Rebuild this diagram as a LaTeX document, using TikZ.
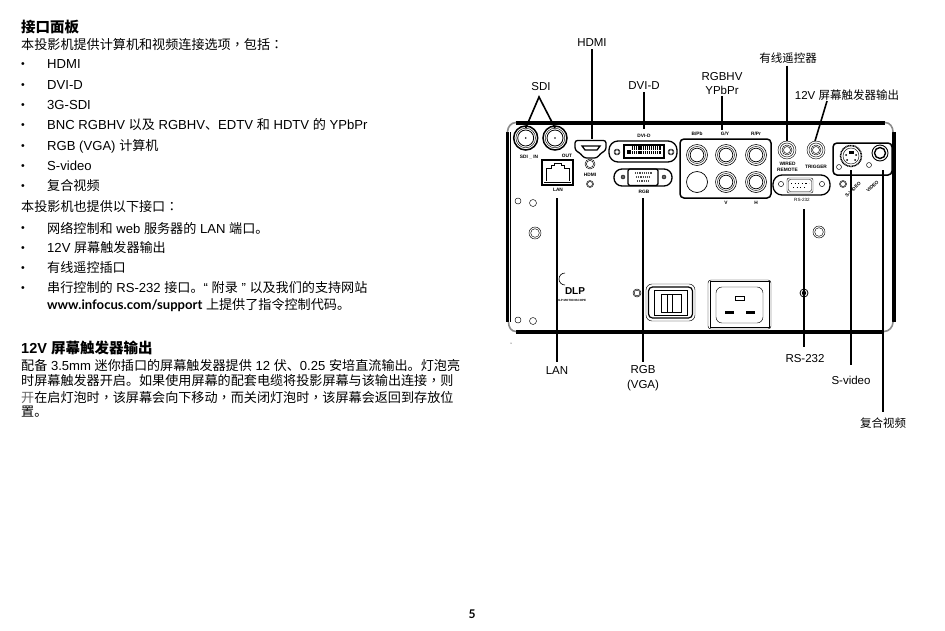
\documentclass[tikz,border=0pt]{standalone}
\usepackage{fontspec}
\setmainfont{Liberation Sans}
\newfontfamily\cjkf{Noto Sans CJK SC}
\newfontfamily\cjkp{Noto Sans CJK TC}
\newfontfamily\gill{Lato}
\newcommand\zh[1]{{\cjkf #1}}
\newcommand\zp[1]{{\cjkp #1}}
\newcommand\ringc[3]{\draw[pline] (#1,#2) circle (#3); \draw[pline] (#1,#2) circle (#3*0.72);}
\newcommand\rca[2]{\draw[pline,line width=.6pt] (#1,#2) circle (10.5); \draw[pline] (#1,#2) circle (8.5); \draw[pline,line width=.7pt] (#1,#2) circle (6.8);}
\tikzset{
 x=1pt,y=-1pt,
 body/.style={anchor=west,inner sep=0pt,font=\fontsize{13.1}{13.1}\selectfont},
 bul/.style={anchor=west,inner sep=0pt,font=\fontsize{10.5}{10.5}\selectfont},
 head/.style={anchor=west,inner sep=0pt,font=\fontsize{14.5}{14.5}\selectfont\bfseries},
 lab/.style={anchor=center,inner sep=0pt,align=center,font=\fontsize{11.5}{14.5}\selectfont},
 lead/.style={line width=1.6pt,black},
 wall/.style={line width=2.6pt,black},
 thin/.style={line width=.5pt,black},
 pline/.style={line width=.45pt,black},
 pthick/.style={line width=1.3pt,black},
 corner/.style={line width=1.6pt,black!45},
 tiny/.style={inner sep=0pt,align=center,font=\fontsize{4.8}{6}\selectfont\bfseries},
}
\begin{document}
\begin{tikzpicture}
\useasboundingbox (0,0) rectangle (945,630);
% left text
\node[head] (t1) at (21,27) {\zh{\textbf{接口面板}}};
\node[body] (p1) at (21,45) {\zh{本投影机提供计算机和视频连接选项}\zp{，}\zh{包括}\zp{：}};
\foreach \yy/\tt [count=\i] in {64/HDMI,85/DVI-D,105/3G-SDI,125/{BNC RGBHV \zh{以及} RGBHV\zh{、}EDTV \zh{和} HDTV \zh{的} YPbPr},146/{RGB (VGA) \zh{计算机}},166/S-video,186/{\zh{复合视频}},228/{\zh{网络控制和} web \zh{服务器的} LAN \zh{端口。}},248/{12V \zh{屏幕触发器输出}},268/{\zh{有线遥控插口}},288/{\zh{串行控制的} RS-232 \zh{接口。}“ \zh{附录} ” \zh{以及我们的支持网站}}}{
  \node[bul] (b\i) at (21,\yy+1) {•};
  \node[body] (l\i) at (47,\yy) {\tt};
}
\node[body] (p2) at (21,207) {\zh{本投影机也提供以下接口}\zp{：}};
\node[body] (p3) at (47,305) {{\gill\bfseries www.infocus.com/support} \zh{上提供了指令控制代码。}};
\node[head] (t2) at (21,348) {12V \zh{\textbf{屏幕触发器输出}}};
\node[body] (q1) at (21,365) {\zh{配备} 3.5mm \zh{迷你插口的屏幕触发器提供} 12 \zh{伏、}0.25 \zh{安培直流输出。灯泡亮}};
\node[body] (q2) at (21,381) {\zh{时屏幕触发器开启。如果使用屏幕的配套电缆将投影屏幕与该输出连接}\zp{，}\zh{则}};
\node[body] (q3) at (21,397) {{\cjkf\color{black!60}开}\zh{在启灯泡时}\zp{，}\zh{该屏幕会向下移动}\zp{，}\zh{而关闭灯泡时}\zp{，}\zh{该屏幕会返回到存放位}};
\node[body] (q4) at (21,412) {\zh{置。}};
\node[inner sep=0pt,font=\fontsize{12}{12}\selectfont\gill\bfseries] (pg) at (472,614) {5};

% panel outline
\draw[wall] (516,123.7) -- (885,123.7);
\draw[thin] (516,121.3) -- (885,121.3);
\draw[wall] (516,332.7) -- (884,332.7);
\draw[thin] (516,330.2) -- (884,330.2);
\draw[wall] (507.5,132) -- (507.5,322);
\draw[thin] (510,132) -- (510,322);
\draw[wall] (894.3,132) -- (894.3,322);
\draw[thin] (891.8,132) -- (891.8,322);
\draw[corner] (507.5,132) .. controls (507.5,127) and (511,122.5) .. (516,122.5);
\draw[corner] (885,122.5) .. controls (890,122.5) and (893,127) .. (893,132);
\draw[corner] (508.5,322) .. controls (508.5,327) and (511,331.5) .. (516,331.5);
\draw[corner] (884,331.5) .. controls (889,331.5) and (893,327) .. (893,322);
% SDI
\foreach \xx in {525.7,555}{
 \draw[line width=1.5pt] (\xx,138) circle (12);
 \draw[pline] (\xx,138) circle (9.8);
 \draw[line width=.8pt] (\xx,138) circle (8);
 \fill (\xx,138) circle (.8);
}
\node[tiny] (nsdi) at (529,157) {SDI \_\ IN};
\node[tiny] (nout) at (567,155.5) {OUT};
% LAN
\draw[pthick,line width=1.6pt] (542,160) rectangle (573,185);
\draw[pline] (546,181) -- (546,168) -- (551,168) -- (551,165) -- (554,165) -- (554,163) -- (561,163) -- (561,165) -- (564,165) -- (564,168) -- (569,168) -- (569,181);
\draw[pline] (544,182) -- (571,182);
\node[tiny] (nlan) at (558,190) {LAN};
% HDMI
\draw[pthick,rounded corners=2.5] (575,140.5) -- (606,140.5) -- (606,150) -- (600,154) -- (597,158) -- (584,158) -- (581,154) -- (575,150) -- cycle;
\draw[pthick] (582,146) -- (600,146) -- (597,150) -- (585,150) -- cycle;
\ringc{590}{164}{5}
\node[tiny] (nhdmi) at (590,175) {HDMI};
\ringc{590}{184}{3.5}
% DVI
\draw[pthick,rounded corners=9] (609,141) rectangle (677,162);
\draw[pthick] (624,145) rectangle (664,158);
\draw[line width=3.5pt,dash pattern=on 1.2pt off .9pt,black] (632,148) -- (661,148);
\draw[line width=3.5pt,dash pattern=on 1.2pt off .9pt,black] (632,152.5) -- (661,152.5);
\draw[fill=black] (627,150) rectangle (630,153);
\ringc{617}{152}{3}
\ringc{671}{152}{3}
\node[tiny] (ndvi) at (644,136) {DVI-D};
% VGA
\draw[pthick,rounded corners=8] (614,169) rectangle (672,186);
\draw[pthick,rounded corners=2] (628,169) rectangle (658,185.5);
\draw[line width=2pt,dash pattern=on 1.2pt off 1pt,black!70] (635,173) -- (652,173);
\draw[line width=2pt,dash pattern=on 1.2pt off 1pt,black!70] (636,177) -- (651,177);
\draw[line width=2pt,dash pattern=on 1.2pt off 1pt,black!70] (637,181) -- (650,181);
\draw[fill=black!60] (623,177) circle (2);
\draw[fill=black!60] (664,177) circle (2);
\node[tiny] (nrgb) at (644,192) {RGB};
% RCA group
\draw[pthick,line width=1.5pt,rounded corners=4] (680,139) rectangle (771,198);
\rca{697}{155}
\draw[pline,line width=.7pt] (697,182) circle (10.5);
\rca{726}{155}
\rca{756}{155}
\rca{726}{182}
\rca{756}{182}
\node[tiny] at (697,134) {B/Pb};
\node[tiny] at (725,134) {G/Y};
\node[tiny] at (756,134) {R/Pr};
\node[tiny] at (726,203) {V};
\node[tiny] at (756,203) {H};
% remote + trigger
\foreach \xx in {787,816}{
 \draw[pline] (\xx,150) circle (9);
 \draw[pline] (\xx,150) circle (7);
 \draw[pline] (\xx,150) circle (5);
 \draw[pline] (\xx,150) circle (3.5);
}
\node[tiny] (nwr) at (787.5,167) {WIRED\\REMOTE};
\node[tiny] (ntr) at (816,167) {TRIGGER};
% RS232
\draw[pthick,rounded corners=9] (773,175) rectangle (830,195);
\draw[pline,rounded corners=2] (787,178) rectangle (813,193);
\draw[pline,rounded corners=2] (788.5,179.5) rectangle (811.5,191.5);
\draw[line width=1.2pt,dash pattern=on 1.2pt off 2.4pt] (791,183.5) -- (809,183.5);
\draw[line width=1.2pt,dash pattern=on 1.2pt off 2.4pt] (793,187.5) -- (807,187.5);
\draw[pline] (781,184) circle (2.6);
\draw[pline] (822,184) circle (2.6);
\node[tiny,font=\fontsize{4.6}{5}\selectfont] (nrs) at (802,200) {RS-232};
% S-video box
\draw[pthick,line width=1.5pt,rounded corners=4] (833,143) rectangle (892,175);
\draw[pthick,dash pattern=on 1pt off .6pt,line width=1.5pt] (851,156) circle (10.5);
\draw[pline] (851,156) circle (8);
\draw[fill=black] (849,151) rectangle (853,153);
\foreach \p in {(846,155),(856,155),(847,160),(855,160)}{\fill \p circle (1);}
\draw[pline,line width=.9pt] (880,153) circle (8);
\draw[line width=1.4pt] (880,153) circle (5.5);
\draw[pline] (839,167) circle (2.5);
\draw[pline] (869,165) circle (2.5);
\ringc{843}{184}{3.5}
\node[tiny,rotate=45] (nsv) at (853,189.5) {S-VIDEO};
\node[tiny,rotate=45] (nvid) at (872.5,186.5) {VIDEO};
% small holes
\draw[pline] (518,201) circle (3);
\draw[pline] (533,203) circle (3.5);
\ringc{535}{233}{6}
\draw[pline] (518,320) circle (3);
\draw[pline] (533,321) circle (3.5);
\ringc{819}{232}{6}
\ringc{637}{293}{4}
\draw[pline,line width=.8pt] (804,293) circle (4);
\fill (804,293) circle (2.2);
% DLP
\draw[pline,line width=.6pt] (565,285) arc[start angle=90,end angle=270,radius=6];
\node[inner sep=0pt,font=\fontsize{10}{10}\selectfont\bfseries] (ndlp) at (575,291.5) {DLP};
\node[tiny,font=\fontsize{3}{3}\selectfont\bfseries] (ndlp2) at (571.5,300) {DLP MOTIONSCOPE};
% switch
\draw[pline,rounded corners=6] (646,284) rectangle (695,321);
\draw[pthick,rounded corners=4,line width=1.2pt] (648.5,287) rectangle (692.5,318);
\draw[pline] (654,290) rectangle (687,315);
\draw[pthick,line width=1pt] (661,294) rectangle (681,312);
\draw[pline] (667,294) -- (667,312);
\draw[pline] (672,294) -- (672,312);
% power
\draw[pline,rounded corners=3] (708,280) rectangle (771,329);
\draw[pthick,line width=.9pt] (710,281.5) rectangle (769,327.5);
\draw[pline,rounded corners=6] (716,287) rectangle (763,323);
\draw[pline,line width=.9pt,fill=white] (735.5,296.5) rectangle (744.5,300);
\fill (725,310.5) rectangle (733.5,314);
\fill (746,310.5) rectangle (754.5,314);
% dot
\fill (511,343) circle (.5);

% labels
\node[lab] (lhdmi) at (592,43) {HDMI};
\node[lab] (lsdi) at (541,87) {SDI};
\node[lab] (ldvi) at (644,86) {DVI-D};
\node[lab] (lrgbhv) at (722,83.5) {RGBHV\\YPbPr};
\node[lab] (lwr) at (788,58) {\zh{有线遥控器}};
\node[lab] (ltr) at (847,95) {12V \zh{屏幕触发器输出}};
\node[lab] (llan) at (557,371) {LAN};
\node[lab] (lrgb) at (643,378) {RGB\\(VGA)};
\node[lab] (lrs) at (805,359) {RS-232};
\node[lab] (lsv) at (851,380) {S-video};
\node[lab] (lcv) at (883,423) {\zh{复合视频}};
% leader ends
\coordinate (sdiapex) at (539,97);
\coordinate (sdia) at (525.7,128);
\coordinate (sdib) at (555,128);
\coordinate (ehdmi) at (592,139);
\coordinate (edvi) at (644,129);
\coordinate (ergbhv) at (722,130);
\coordinate (ewr) at (787,141);
\coordinate (etr) at (815,141);
\coordinate (elan) at (557,198);
\coordinate (ergb) at (643,198);
\coordinate (ers) at (804,209);
\coordinate (esv) at (851,170);
\coordinate (ecv) at (883,170);
\draw[lead] (sdia) -- (sdiapex) -- (sdib);
\draw[lead] (lhdmi.south) ++(0,2) -- (ehdmi);
\draw[lead] (ldvi.south) ++(0,2) -- (edvi);
\draw[lead] (lrgbhv.south) ++(0,1) -- (ergbhv);
\draw[lead] (lwr.south) ++(-1,2) -- (ewr);
\draw[lead] (827,101) -- (etr);
\draw[lead] (elan) -- (557,362);
\draw[lead] (ergb) -- (643,362);
\draw[lead] (ers) -- (804,347);
\draw[lead] (esv) -- (851,365);
\draw[lead] (ecv) -- (883,412);
\end{tikzpicture}
\end{document}
